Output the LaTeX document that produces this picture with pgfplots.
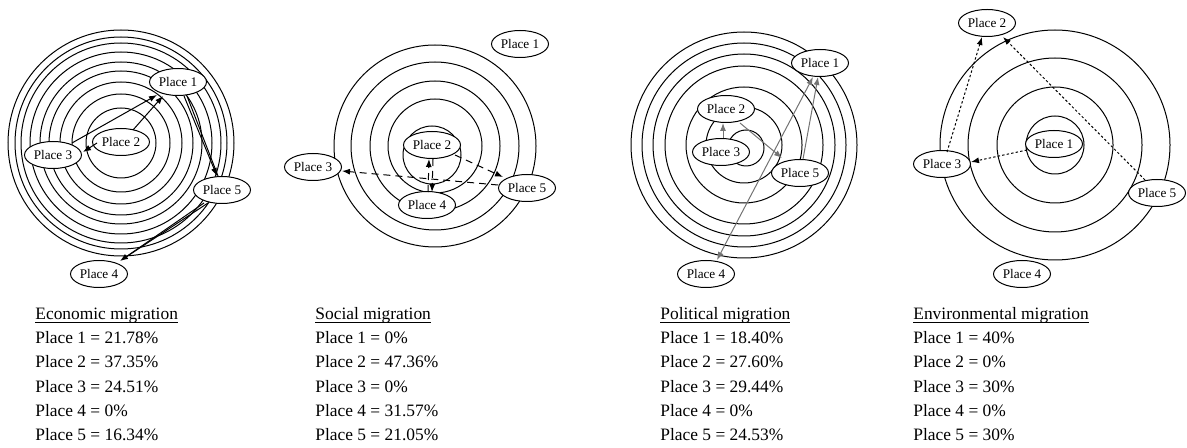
\documentclass[border=0pt]{standalone}
\usepackage{pgfplots}
\pgfplotsset{compat=1.18}
\usepackage{fontspec}
\setmainfont{Liberation Serif}
\usetikzlibrary{shapes.geometric,arrows.meta}
\definecolor{arrgray}{RGB}{115,115,115}
\newcommand\ul[1]{\setbox0\hbox{#1}\rlap{\rule[-1.3pt]{\wd0}{0.4pt}}\box0}
\begin{document}
\begin{tikzpicture}[
  pl/.style={draw, ellipse, fill=white, minimum width=28.5pt, minimum height=13.5pt, inner sep=0pt, line width=0.5pt, font=\fontsize{6.6}{7}\selectfont},
  arr/.style={line width=0.5pt, -{Latex[length=4pt,width=3pt]}},
  darr/.style={arr, dash pattern=on 3.5pt off 2.5pt},
  oarr/.style={arr, dash pattern=on 1.2pt off 1.1pt},
  gar/.style={arr, arrgray},
  txt/.style={anchor=base west, inner sep=0pt, font=\fontsize{8.7}{10}\selectfont}
]
\begin{axis}[scale only axis, width=593.5pt, height=224pt,
  xmin=0, xmax=1187, ymin=0, ymax=448, y dir=reverse,
  hide axis, clip=false]
% keep the full frame as bounding box
\path (rel axis cs:0,0) rectangle (rel axis cs:1,1);

% ---------- Panel 1: Economic migration ----------
\pgfplotsinvokeforeach{35,49,61,72,81,91,100,106,113}{
  \draw[line width=0.5pt] (axis cs:121,143) circle [radius=#1];
}
\node[pl] (a1) at (axis cs:178,82) {Place 1};
\node[pl] (a2) at (axis cs:121,142) {Place 2};
\node[pl] (a3) at (axis cs:53,155) {Place 3};
\node[pl] (a5) at (axis cs:222,190) {Place 5};
\node[pl] (a4) at (axis cs:99,274) {Place 4};
\draw[arr] (axis cs:72,143) -- (axis cs:157,95);
\draw[arr] (axis cs:133,130) -- (axis cs:163,96);
\draw[arr] (axis cs:97,143) -- (axis cs:83,152);
\draw[arr] (axis cs:184,96) -- (axis cs:217,176);
\draw[line width=0.5pt] (axis cs:187,96) -- (axis cs:218,176);
\draw[arr] (axis cs:204,203) -- (axis cs:120,261);
\draw[line width=0.5pt] (axis cs:208,203) -- (axis cs:123,259);

% ---------- Panel 2: Social migration ----------
\pgfplotsinvokeforeach{47,65,84,101}{
  \draw[line width=0.5pt] (axis cs:435,146) circle [radius=#1];
}
\draw[line width=0.5pt] (axis cs:432,155) circle [radius=29];
\node[pl] (b1) at (axis cs:520,44) {Place 1};
\node[pl] (b2) at (axis cs:432,145) {Place 2};
\node[pl] (b3) at (axis cs:313,167) {Place 3};
\node[pl] (b5) at (axis cs:527,188) {Place 5};
\node[pl] (b4) at (axis cs:427,205) {Place 4};
\draw[darr] (axis cs:498,185) -- (axis cs:342,171);
\draw[darr] (axis cs:455,155) -- (axis cs:503,177);
\draw[darr] (axis cs:428,192) -- (axis cs:429,159);
\draw[darr] (axis cs:433,159) -- (axis cs:432,192);

% ---------- Panel 3: Political migration ----------
\pgfplotsinvokeforeach{38,58,79,91,102,113}{
  \draw[line width=0.5pt] (axis cs:744,145) circle [radius=#1];
}
\draw[line width=0.5pt] (axis cs:746,148) circle [radius=18];
\node[pl] (c1) at (axis cs:820,63) {Place 1};
\node[pl] (c2) at (axis cs:726,109) {Place 2};
\node[pl] (c3) at (axis cs:721,152) {Place 3};
\node[pl] (c5) at (axis cs:800,173) {Place 5};
\node[pl] (c4) at (axis cs:706,274) {Place 4};
\draw[gar] (axis cs:723,138) -- (axis cs:723,123);
\draw[gar] (axis cs:740,123) -- (axis cs:782,158);
\draw[gar] (axis cs:803,159) -- (axis cs:818,77);
\draw[gar, {Latex[length=4pt,width=3pt]}-{Latex[length=4pt,width=3pt]}] (axis cs:813,77) -- (axis cs:717,260);

% ---------- Panel 4: Environmental migration ----------
\pgfplotsinvokeforeach{29,58,87,115}{
  \draw[line width=0.5pt] (axis cs:1055,145) circle [radius=#1];
}
\node[pl] (d1) at (axis cs:1054,144) {Place 1};
\node[pl] (d2) at (axis cs:987,23) {Place 2};
\node[pl] (d3) at (axis cs:942,164) {Place 3};
\node[pl] (d5) at (axis cs:1157,193) {Place 5};
\node[pl] (d4) at (axis cs:1022,274) {Place 4};
\draw[oarr] (axis cs:1027,150) -- (axis cs:971,162);
\draw[oarr] (axis cs:947,152) -- (axis cs:982,37);
\draw[oarr] (axis cs:1145,180) -- (axis cs:1003,37);

% ---------- Text ----------
\node[txt] at (axis cs:35,320) {\ul{Economic migration}};
\node[txt] at (axis cs:35,343.5) {Place 1 = 21.78\%};
\node[txt] at (axis cs:35,367.5) {Place 2 = 37.35\%};
\node[txt] at (axis cs:35,392) {Place 3 = 24.51\%};
\node[txt] at (axis cs:35,416) {Place 4 = 0\%};
\node[txt] at (axis cs:35,440) {Place 5 = 16.34\%};

\node[txt] at (axis cs:315,320) {\ul{Social migration}};
\node[txt] at (axis cs:315,343.5) {Place 1 = 0\%};
\node[txt] at (axis cs:315,367.5) {Place 2 = 47.36\%};
\node[txt] at (axis cs:315,392) {Place 3 = 0\%};
\node[txt] at (axis cs:315,416) {Place 4 = 31.57\%};
\node[txt] at (axis cs:315,440) {Place 5 = 21.05\%};

\node[txt] at (axis cs:660,320) {\ul{Political migration}};
\node[txt] at (axis cs:660,343.5) {Place 1 = 18.40\%};
\node[txt] at (axis cs:660,367.5) {Place 2 = 27.60\%};
\node[txt] at (axis cs:660,392) {Place 3 = 29.44\%};
\node[txt] at (axis cs:660,416) {Place 4 = 0\%};
\node[txt] at (axis cs:660,440) {Place 5 = 24.53\%};

\node[txt] at (axis cs:913,320) {\ul{Environmental migration}};
\node[txt] at (axis cs:913,343.5) {Place 1 = 40\%};
\node[txt] at (axis cs:913,367.5) {Place 2 = 0\%};
\node[txt] at (axis cs:913,392) {Place 3 = 30\%};
\node[txt] at (axis cs:913,416) {Place 4 = 0\%};
\node[txt] at (axis cs:913,440) {Place 5 = 30\%};
\end{axis}
\end{tikzpicture}
\end{document}
